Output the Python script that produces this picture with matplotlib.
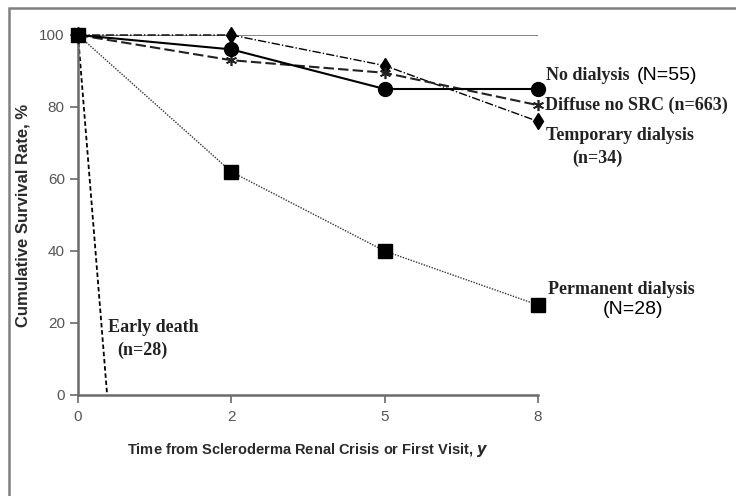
import matplotlib.pyplot as plt
from matplotlib.patches import Rectangle

# -------- DATA ------------------------------------------------------
TIME_LABELS = ["0", "2", "5", "8"]
NO_DIALYSIS = [100, 96, 85, 85]
DIFFUSE_NO_SRC = [100, 93, 89.5, 80.5]
TEMPORARY_DIALYSIS = [100, 100, 91.5, 76]
PERMANENT_DIALYSIS = [100, 62, 40, 25]
EARLY_DEATH_X = [0, 0.19]   # in tick-index units
EARLY_DEATH = [100, 0]
# --------------------------------------------------------------------

W, H = 736, 496


def px(x, y):
    # pixel position (from top-left) -> figure fraction
    return x / W, 1 - y / H


def main():
    fig = plt.figure(figsize=(W / 100, H / 100), dpi=100)

    # outer frame (only top and left edges are visible)
    fig.patches.append(Rectangle(px(9, 600), 2.0, (600 - 8) / H,
                                 transform=fig.transFigure, fill=False,
                                 edgecolor="#808080", linewidth=1.8))

    ax = fig.add_axes([78 / W, (H - 395) / H, 460 / W, 360 / H])
    pos = list(range(len(TIME_LABELS)))

    gray = "#6a6a6a"
    ax.axhline(100, color="#777777", linewidth=1.3, zorder=1)

    ax.plot(EARLY_DEATH_X, EARLY_DEATH, color="black", linestyle=(0, (2.5, 1.5)),
            linewidth=1.3, clip_on=False)
    ax.plot(pos, PERMANENT_DIALYSIS, color="#333333", linestyle=(0, (1, 1)),
            linewidth=1.0, marker="s", markersize=9.5, markerfacecolor="black",
            markeredgecolor="black", clip_on=False, zorder=4)
    ax.plot(pos, TEMPORARY_DIALYSIS, color="black", linestyle=(0, (6, 1.5, 1, 1.5)),
            linewidth=1.0, marker="d", markersize=8, markerfacecolor="black",
            clip_on=False, zorder=3)
    ax.plot(pos, DIFFUSE_NO_SRC, color="#222222", linestyle=(0, (5, 2)),
            linewidth=1.5, marker=(6, 2, 0), markersize=8, markeredgewidth=1.2,
            clip_on=False, zorder=3)
    ax.plot(pos, NO_DIALYSIS, color="black", linestyle="-", linewidth=1.5,
            marker="o", markersize=10, clip_on=False, zorder=3)

    ax.set_xlim(0, 3)
    ax.set_ylim(0, 100)
    ax.set_xticks(pos)
    ax.set_xticklabels(TIME_LABELS)
    ax.set_yticks([0, 20, 40, 60, 80, 100])

    for side in ["top", "right"]:
        ax.spines[side].set_visible(False)
    for side in ["left", "bottom"]:
        ax.spines[side].set_color(gray)
        ax.spines[side].set_linewidth(1.8)

    ax.tick_params(axis="both", direction="out", length=6, width=1.2,
                   color=gray, labelcolor="#555555", labelsize=11)
    ax.tick_params(axis="x", pad=5)
    for lab in ax.get_xticklabels() + ax.get_yticklabels():
        lab.set_family("Liberation Sans")

    ax.set_ylabel("Cumulative Survival Rate, %", fontsize=12, fontweight="bold",
                  family="Liberation Sans", labelpad=6, color="#2a2a2a")
    ax.set_xlabel("Time from Scleroderma Renal Crisis or First Visit, $\\mathbfit{y}$",
                  fontsize=10.5, fontweight="bold", family="Liberation Sans",
                  labelpad=12, color="#2a2a2a")

    serif = dict(family="Liberation Serif", fontweight="bold", fontsize=13,
                 color="#222222", va="center", ha="left")
    sans = dict(family="Liberation Sans", fontsize=14, color="black",
                va="center", ha="left")

    fig.text(*px(546, 75), "No dialysis", **serif)
    fig.text(*px(637, 75), "(N=55)", **sans)
    fig.text(*px(545, 105), "Diffuse no SRC (n=663)", **serif)
    fig.text(*px(546, 135), "Temporary dialysis", **serif)
    fig.text(*px(572, 158), "(n=34)", **serif)
    fig.text(*px(548, 289), "Permanent dialysis", **serif)
    fig.text(*px(603, 309), "(N=28)", **sans)
    fig.text(*px(108, 327), "Early death", **serif)
    fig.text(*px(117, 350), "(n=28)", **serif)

    fig.savefig("out.png", dpi=100)


if __name__ == "__main__":
    main()
